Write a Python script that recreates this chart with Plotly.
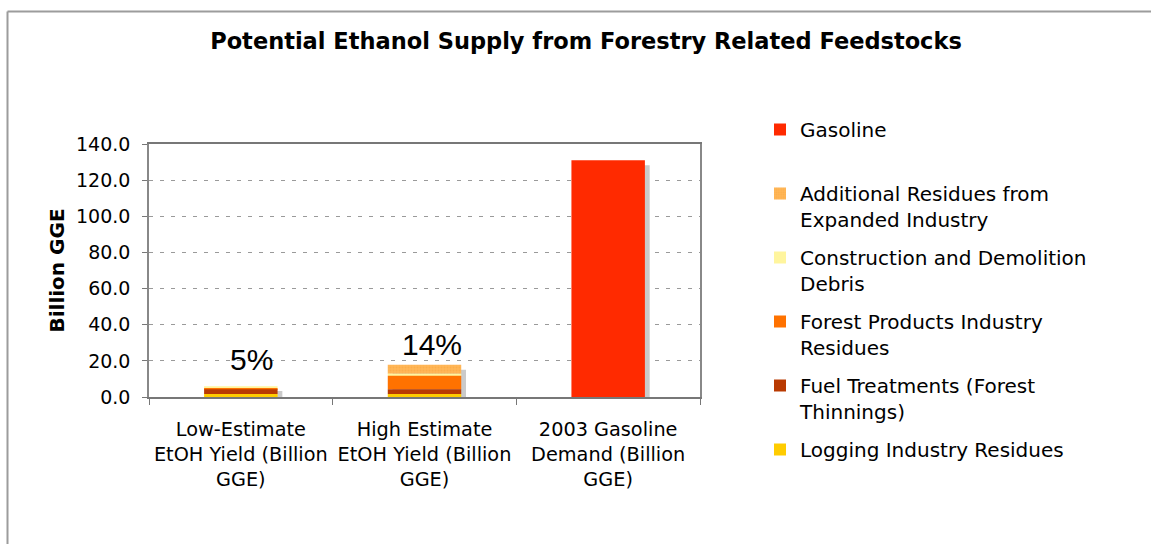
import plotly.graph_objects as go

# Categories and tick labels
categories = ["low", "high", "gas"]
tick_labels = [
    "Low-Estimate<br>EtOH Yield (Billion<br>GGE)",
    "High Estimate<br>EtOH Yield (Billion<br>GGE)",
    "2003 Gasoline<br>Demand (Billion<br>GGE)",
]

# Feedstock series (billion GGE) for the two ethanol estimates, bottom to top
logging_residues = [1.7, 1.7]
fuel_treatments = [2.6, 2.6]
forest_products = [0.6, 7.4]
construction_debris = [1.1, 1.1]
additional_residues = [0.0, 5.0]

# Gasoline demand (billion GGE)
gasoline = [131.0]

series = [
    ("Logging Industry Residues", logging_residues, "#FFCC00", None),
    ("Fuel Treatments (Forest<br>Thinnings)", fuel_treatments, "#B93A02", None),
    ("Forest Products Industry<br>Residues", forest_products, "#FF7200", None),
    ("Construction and Demolition<br>Debris", construction_debris, "#FFF59E", None),
    ("Additional Residues from<br>Expanded Industry", additional_residues, "#FFB657", "."),
]

BAR_W = 0.4
SHADOW_DX = 0.026   # shadow shift to the right (category units)
SHADOW_DY = 2.7     # shadow drop (value units)

fig = go.Figure()

# Totals of each stacked column, used for the drop shadow and the share labels
eth_totals = [sum(s[1][i] for s in series) for i in range(2)]
totals = eth_totals + gasoline

fig.add_trace(go.Bar(
    x=categories, y=[t - SHADOW_DY for t in totals], base=0,
    width=BAR_W, offset=-BAR_W / 2 + SHADOW_DX,
    marker=dict(color="#CACACA", line=dict(width=0)),
    showlegend=False, hoverinfo="skip",
))

# Stack bases, bottom to top
bases = []
run = [0.0, 0.0]
for _, vals, _, _ in series:
    bases.append(list(run))
    run = [b + v for b, v in zip(run, vals)]

# Traces are added top-of-legend first: gasoline, then the feedstocks top to bottom
fig.add_trace(go.Bar(
    x=categories[2:], y=gasoline, base=0, width=BAR_W,
    name="Gasoline<br> ", marker=dict(color="#FF2A00", line=dict(width=0)),
    legendgroup="Gasoline",
))

for (name, vals, color, pat), base in reversed(list(zip(series, bases))):
    marker = dict(color=color, line=dict(width=0))
    if pat:
        marker["pattern"] = dict(shape=pat, fgcolor="#F7A63E", size=3, solidity=0.35)
    fig.add_trace(go.Bar(
        x=categories[:2], y=vals, base=base, width=BAR_W,
        name=name, marker=marker, legendgroup=name,
    ))

# Share of 2003 gasoline demand above each ethanol column
label_shift = [(11, 27), (7, 20)]
for i, t in enumerate(eth_totals):
    fig.add_annotation(
        x=categories[i], y=t, text=f"{round(t / gasoline[0] * 100)}%",
        showarrow=False, xshift=label_shift[i][0], yshift=label_shift[i][1],
        yanchor="middle",
        font=dict(family="Liberation Sans, Arial", size=30, color="#000000"),
    )

W, H = 1151, 544
L, R, T, B = 149, 451, 144, 147
pw, ph = W - L - R, H - T - B

def px_x(p):
    return (p - L) / pw

def px_y(p):
    return (H - B - p) / ph

# Outer frame (top and left edges)
for x0, y0, x1, y1 in [(7.5, 11.5, W + 5, 11.5), (7.5, 11.5, 7.5, H + 5)]:
    fig.add_shape(type="line", xref="paper", yref="paper",
                  x0=px_x(x0), y0=px_y(y0), x1=px_x(x1), y1=px_y(y1),
                  line=dict(color="#9C9C9C", width=2))

fig.update_layout(
    width=W, height=H,
    margin=dict(l=L, r=R, t=T, b=B, pad=0),
    paper_bgcolor="white", plot_bgcolor="white",
    barmode="overlay",
    font=dict(family="DejaVu Sans, Verdana", size=19, color="#000000"),
    title=dict(
        text="<b>Potential Ethanol Supply from Forestry Related Feedstocks</b>",
        x=586 / W, xanchor="center", y=1 - 41 / H, yanchor="middle",
        font=dict(size=22.5, family="DejaVu Sans, Verdana", color="#000000"),
    ),
    legend=dict(
        traceorder="grouped", tracegroupgap=9,
        xref="container", yref="container",
        x=760 / W, xanchor="left", y=1 - 110 / H, yanchor="top",
        valign="top", font=dict(size=20),
        bgcolor="rgba(0,0,0,0)", maxheight=520,
    ),
    showlegend=True,
    xaxis=dict(
        tickmode="array", tickvals=categories, ticktext=tick_labels,
        tickson="boundaries", ticks="outside", ticklen=6, tickcolor="#777777",
        ticklabelstandoff=14, tickfont=dict(size=19.3),
        showline=True, linecolor="#777777", linewidth=1.5, mirror=True,
        showgrid=False, range=[-0.5, 2.5], fixedrange=True,
    ),
    yaxis=dict(
        range=[0, 140], dtick=20, tickformat=".1f",
        ticks="outside", ticklen=5, tickcolor="#777777", ticklabelstandoff=8,
        showline=True, linecolor="#888888", linewidth=1.5, mirror=True,
        showgrid=True, gridcolor="#9A9A9A", griddash="4px,7px", gridwidth=1,
        zeroline=False,
        title=dict(text="<b>Billion GGE</b>", font=dict(size=20), standoff=6),
    ),
)

fig.write_html("out.html")
